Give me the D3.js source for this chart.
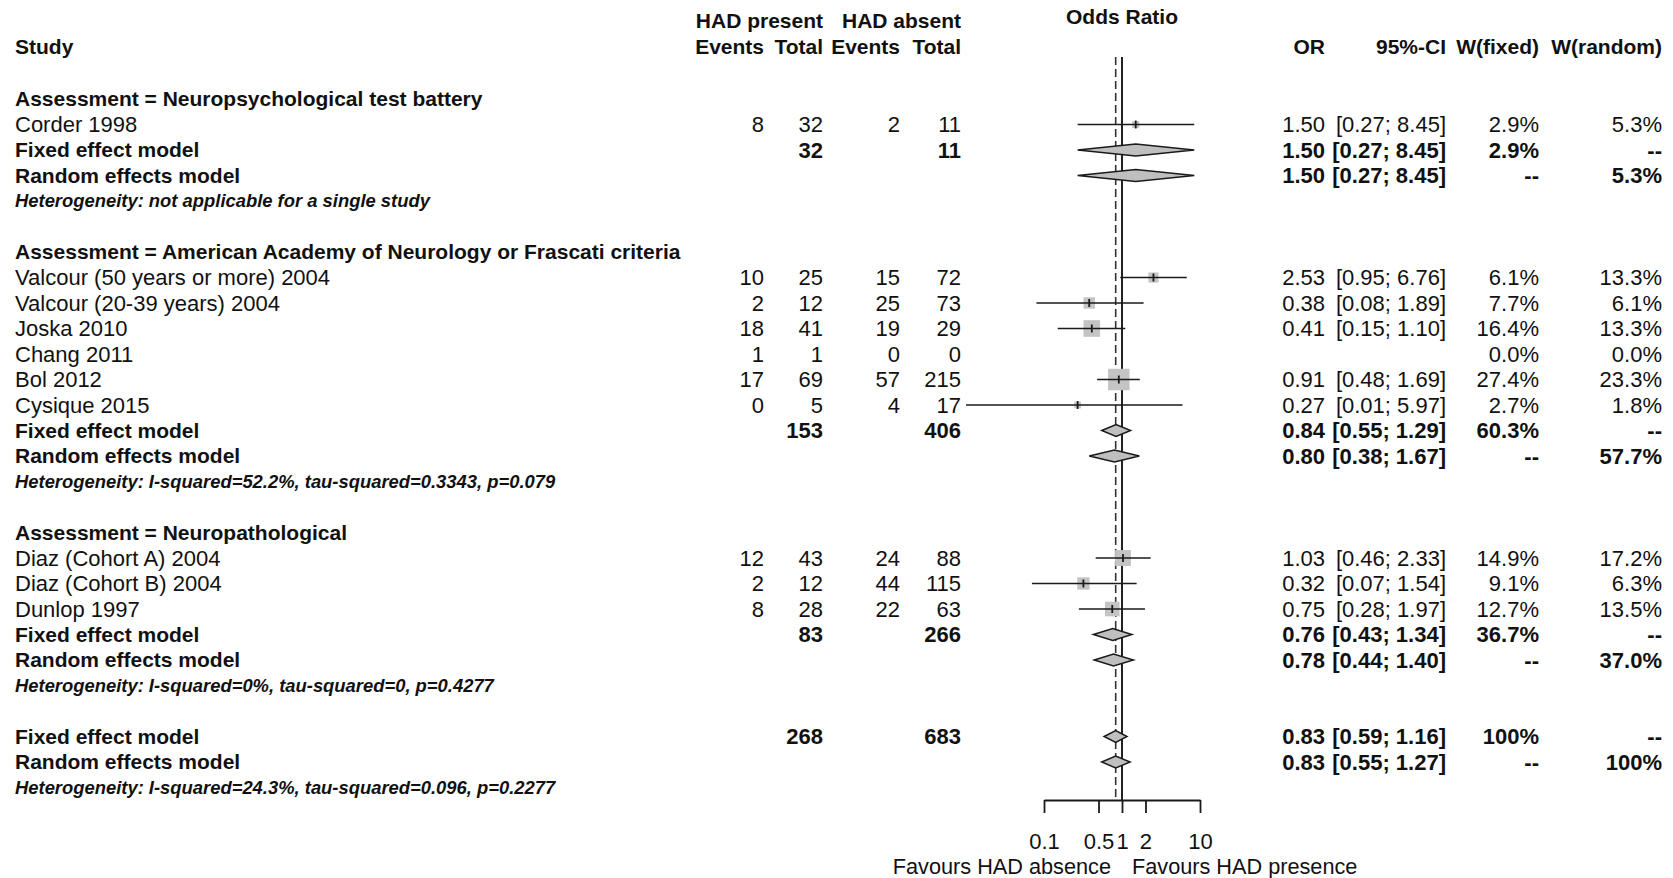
<!DOCTYPE html>
<html>
<head>
<meta charset="utf-8">
<script src="https://cdn.jsdelivr.net/npm/d3@7"></script>
<style>
  html, body { margin: 0; padding: 0; background: #fff; }
  svg { display: block; font-family: "Liberation Sans", Arial, sans-serif; }
  text { fill: #111; }
</style>
</head>
<body>
<svg id="forest" width="1673" height="878"></svg>
<script>
// ---- Subgroups -----------------------------------------------------------
const groupLabels = [
  "Assessment = Neuropsychological test battery",
  "Assessment = American Academy of Neurology or Frascati criteria",
  "Assessment = Neuropathological"
];
const groupTotalPresent = [32, 153, 83];
const groupTotalAbsent  = [11, 406, 266];
const groupFixedOR  = [1.50, 0.84, 0.76];
const groupFixedLo  = [0.27, 0.55, 0.43];
const groupFixedHi  = [8.45, 1.29, 1.34];
const groupFixedW   = ["2.9%", "60.3%", "36.7%"];
const groupRandomOR = [1.50, 0.80, 0.78];
const groupRandomLo = [0.27, 0.38, 0.44];
const groupRandomHi = [8.45, 1.67, 1.40];
const groupRandomW  = ["5.3%", "57.7%", "37.0%"];
const groupHet = [
  "Heterogeneity: not applicable for a single study",
  "Heterogeneity: I-squared=52.2%, tau-squared=0.3343, p=0.079",
  "Heterogeneity: I-squared=0%, tau-squared=0, p=0.4277"
];

// ---- Studies -------------------------------------------------------------
const studyNames = [
  "Corder 1998",
  "Valcour (50 years or more) 2004", "Valcour (20-39 years) 2004", "Joska 2010",
  "Chang 2011", "Bol 2012", "Cysique 2015",
  "Diaz (Cohort A) 2004", "Diaz (Cohort B) 2004", "Dunlop 1997"
];
const studyGroup     = [0, 1, 1, 1, 1, 1, 1, 2, 2, 2];
const eventsPresent  = [8, 10, 2, 18, 1, 17, 0, 12, 2, 8];
const totalPresent   = [32, 25, 12, 41, 1, 69, 5, 43, 12, 28];
const eventsAbsent   = [2, 15, 25, 19, 0, 57, 4, 24, 44, 22];
const totalAbsent    = [11, 72, 73, 29, 0, 215, 17, 88, 115, 63];
const studyOR        = [1.50, 2.53, 0.38, 0.41, null, 0.91, 0.27, 1.03, 0.32, 0.75];
const studyLo        = [0.27, 0.95, 0.08, 0.15, null, 0.48, 0.01, 0.46, 0.07, 0.28];
const studyHi        = [8.45, 6.76, 1.89, 1.10, null, 1.69, 5.97, 2.33, 1.54, 1.97];
const studyWFixed    = [2.9, 6.1, 7.7, 16.4, 0.0, 27.4, 2.7, 14.9, 9.1, 12.7];
const studyWRandom   = [5.3, 13.3, 6.1, 13.3, 0.0, 23.3, 1.8, 17.2, 6.3, 13.5];

// ---- Overall -------------------------------------------------------------
const overallTotals = [268, 683];
const overallFixed  = [0.83, 0.59, 1.16];
const overallRandom = [0.83, 0.55, 1.27];
const overallW      = ["100%", "100%"];
const overallHet    = "Heterogeneity: I-squared=24.3%, tau-squared=0.096, p=0.2277";

// ---- Axis ----------------------------------------------------------------
const axisTicks = [0.1, 0.5, 1, 2, 10];
const axisTickLabels = ["0.1", "0.5", "1", "2", "10"];
const axisTitleLeft = "Favours HAD absence";
const axisTitleRight = "Favours HAD presence";

// ---- Layout --------------------------------------------------------------
const FS = 22;      // regular text
const FSB = 21;     // bold text
const svg = d3.select("#forest");
const x = d3.scaleLog().domain([0.1, 10]).range([1044, 1200]);
const rowY = d3.scaleLinear().domain([0, 1]).range([99, 124.5]);
const boxSide = d3.scaleSqrt().domain([0, 100]).range([0, 41]);
const col = { left: 15, ev1: 764, tot1: 823, ev2: 900, tot2: 961, or: 1325, ci: 1446, wf: 1539, wr: 1662 };
const fmt = d3.format(".2f");
const pct = v => d3.format(".1f")(v) + "%";
const ciText = (lo, hi) => `[${fmt(lo)}; ${fmt(hi)}]`;

// assemble the rows of the table in display order
const rows = [];
let r = 0;
groupLabels.forEach((g, gi) => {
  rows.push({ kind: "group", y: rowY(r++), label: g });
  studyNames.forEach((s, si) => {
    if (studyGroup[si] !== gi) return;
    rows.push({ kind: "study", y: rowY(r++), label: s, i: si });
  });
  rows.push({ kind: "fixed", y: rowY(r++), label: "Fixed effect model",
    t1: groupTotalPresent[gi], t2: groupTotalAbsent[gi],
    est: groupFixedOR[gi], lo: groupFixedLo[gi], hi: groupFixedHi[gi], wf: groupFixedW[gi], wr: "--" });
  rows.push({ kind: "random", y: rowY(r++), label: "Random effects model",
    est: groupRandomOR[gi], lo: groupRandomLo[gi], hi: groupRandomHi[gi], wf: "--", wr: groupRandomW[gi] });
  rows.push({ kind: "het", y: rowY(r++), label: groupHet[gi] });
  r++;
});
rows.push({ kind: "fixed", y: rowY(r++), label: "Fixed effect model",
  t1: overallTotals[0], t2: overallTotals[1],
  est: overallFixed[0], lo: overallFixed[1], hi: overallFixed[2], wf: overallW[0], wr: "--" });
rows.push({ kind: "random", y: rowY(r++), label: "Random effects model",
  est: overallRandom[0], lo: overallRandom[1], hi: overallRandom[2], wf: "--", wr: overallW[1] });
rows.push({ kind: "het", y: rowY(r++), label: overallHet });

// ---- Header --------------------------------------------------------------
const header = svg.append("g").attr("font-weight", "bold").attr("font-size", FSB);
header.append("text").attr("x", col.left).attr("y", 47).attr("dy", "0.35em").text("Study");
[["HAD present", col.tot1], ["HAD absent", col.tot2]].forEach(([t, cx]) =>
  header.append("text").attr("x", cx).attr("y", 21).attr("dy", "0.35em").attr("text-anchor", "end").text(t));
[["Events", col.ev1], ["Total", col.tot1], ["Events", col.ev2], ["Total", col.tot2],
 ["OR", col.or], ["95%-CI", col.ci], ["W(fixed)", col.wf], ["W(random)", col.wr]].forEach(([t, cx]) =>
  header.append("text").attr("x", cx).attr("y", 47).attr("dy", "0.35em").attr("text-anchor", "end").text(t));
header.append("text").attr("x", x(1)).attr("y", 17).attr("dy", "0.35em")
  .attr("text-anchor", "middle").text("Odds Ratio");

// ---- Reference lines -----------------------------------------------------
const plot = svg.append("g");
plot.append("line").attr("x1", x(1)).attr("x2", x(1)).attr("y1", 57).attr("y2", 800)
  .attr("stroke", "#222").attr("stroke-width", 2);
plot.append("line").attr("x1", x(overallFixed[0])).attr("x2", x(overallFixed[0]))
  .attr("y1", 57).attr("y2", 798)
  .attr("stroke", "#333").attr("stroke-width", 1.6).attr("stroke-dasharray", "8,4");

// ---- Table text ----------------------------------------------------------
const table = svg.append("g");
rows.forEach(d => {
  if (d.kind === "het") {
    table.append("text").attr("x", col.left).attr("y", d.y)
      .attr("dy", "0.35em").attr("font-size", 18.4).attr("font-weight", "bold")
      .attr("font-style", "italic").text(d.label);
    return;
  }
  const bold = d.kind !== "study";
  const size = bold ? FSB : FS;
  table.append("text").attr("x", col.left).attr("y", d.y).attr("font-size", size)
    .attr("dy", "0.35em").attr("font-weight", bold ? "bold" : "normal").text(d.label);
  if (d.kind === "group") return;

  const cells = [];
  if (d.kind === "study") {
    const i = d.i;
    cells.push([eventsPresent[i], col.ev1], [totalPresent[i], col.tot1],
               [eventsAbsent[i], col.ev2], [totalAbsent[i], col.tot2]);
    if (studyOR[i] != null) {
      cells.push([fmt(studyOR[i]), col.or], [ciText(studyLo[i], studyHi[i]), col.ci]);
    }
    cells.push([pct(studyWFixed[i]), col.wf], [pct(studyWRandom[i]), col.wr]);
  } else {
    if (d.t1 != null) cells.push([d.t1, col.tot1], [d.t2, col.tot2]);
    cells.push([fmt(d.est), col.or], [ciText(d.lo, d.hi), col.ci], [d.wf, col.wf], [d.wr, col.wr]);
  }
  cells.forEach(([t, cx]) => table.append("text").attr("x", cx).attr("y", d.y).attr("dy", "0.35em")
    .attr("font-size", FS).attr("text-anchor", "end")
    .attr("font-weight", bold ? "bold" : "normal").text(t));
});

// ---- Study marks ---------------------------------------------------------
const marks = svg.append("g");
const studyRows = rows.filter(d => d.kind === "study" && studyOR[d.i] != null);
marks.selectAll("rect.box").data(studyRows).join("rect").attr("class", "box")
  .attr("x", d => x(studyOR[d.i]) - boxSide(studyWFixed[d.i]) / 2)
  .attr("y", d => d.y - boxSide(studyWFixed[d.i]) / 2)
  .attr("width", d => boxSide(studyWFixed[d.i]))
  .attr("height", d => boxSide(studyWFixed[d.i]))
  .attr("fill", "#c4c4c4");
marks.selectAll("line.ci").data(studyRows).join("line").attr("class", "ci")
  .attr("x1", d => x(studyLo[d.i])).attr("x2", d => x(studyHi[d.i]))
  .attr("y1", d => d.y).attr("y2", d => d.y)
  .attr("stroke", "#1a1a1a").attr("stroke-width", 1.6);
marks.selectAll("line.est").data(studyRows).join("line").attr("class", "est")
  .attr("x1", d => x(studyOR[d.i])).attr("x2", d => x(studyOR[d.i]))
  .attr("y1", d => d.y - 4).attr("y2", d => d.y + 4)
  .attr("stroke", "#1a1a1a").attr("stroke-width", 1.8);

// ---- Pooled diamonds -----------------------------------------------------
const pooled = rows.filter(d => d.kind === "fixed" || d.kind === "random");
const H = 6;
marks.selectAll("path.diamond").data(pooled).join("path").attr("class", "diamond")
  .attr("d", d => `M${x(d.lo)},${d.y}L${x(d.est)},${d.y - H}L${x(d.hi)},${d.y}L${x(d.est)},${d.y + H}Z`)
  .attr("fill", "#bfbfbf").attr("stroke", "#1a1a1a").attr("stroke-width", 1.5);

// ---- Axis ----------------------------------------------------------------
const axis = d3.axisBottom(x).tickValues(axisTicks)
  .tickFormat((v, i) => axisTickLabels[i]).tickSize(13).tickSizeOuter(0).tickPadding(20);
const ax = svg.append("g").attr("transform", "translate(0,800)").call(axis);
ax.selectAll("path, line").attr("stroke", "#1a1a1a").attr("stroke-width", 1.8);
ax.selectAll("text").attr("font-size", FS).attr("font-family", "Liberation Sans, Arial, sans-serif").attr("fill", "#111");

svg.append("text").attr("x", x(1) - 11).attr("y", 866).attr("dy", "0.35em")
  .attr("font-size", 21.7).attr("text-anchor", "end").text(axisTitleLeft);
svg.append("text").attr("x", x(1) + 10).attr("y", 866).attr("dy", "0.35em")
  .attr("font-size", 21.7).attr("text-anchor", "start").text(axisTitleRight);
</script>
</body>
</html>
